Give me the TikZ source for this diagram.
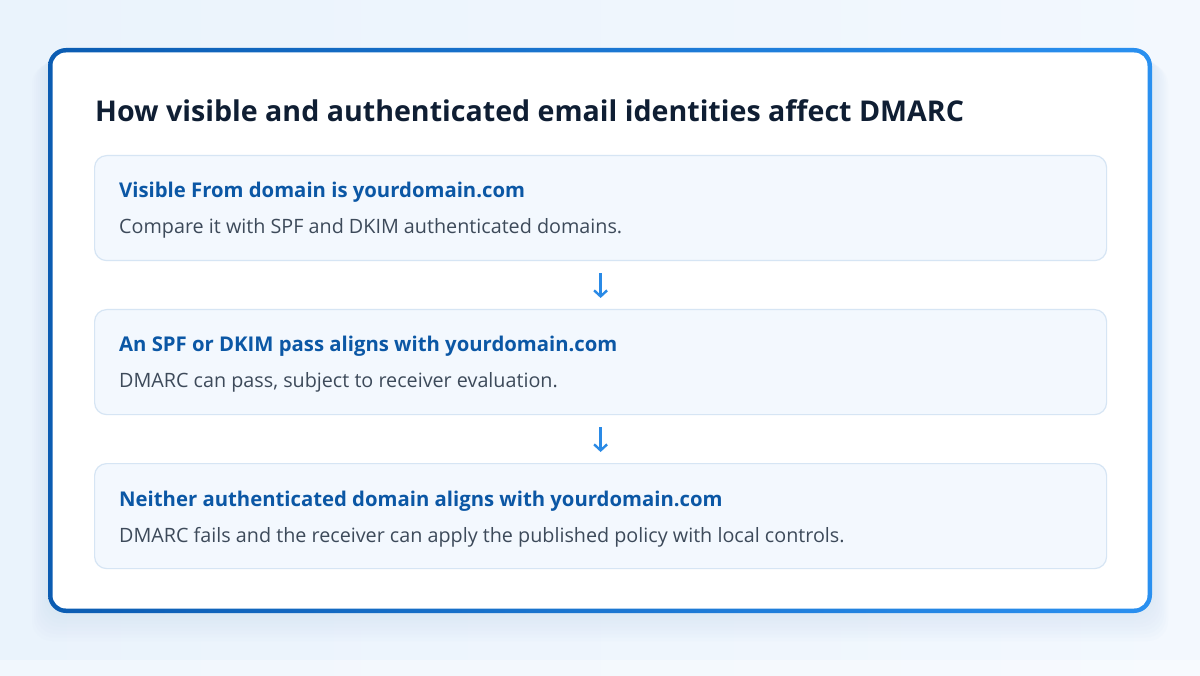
\documentclass[tikz,border=0pt]{standalone}
\usepackage{fontspec}
\setmainfont{Open Sans}
\usetikzlibrary{arrows.meta}
\definecolor{bgA}{HTML}{EAF3FC}
\definecolor{bgB}{HTML}{F3F8FE}
\definecolor{cardL}{HTML}{0B5CB2}
\definecolor{cardR}{HTML}{2A90F0}
\definecolor{titlec}{HTML}{0F1E33}
\definecolor{headc}{HTML}{0B57A5}
\definecolor{bodyc}{HTML}{3D4A5A}
\definecolor{arrowc}{HTML}{2A8AE6}
\definecolor{boxfill}{HTML}{F3F8FE}
\definecolor{boxline}{HTML}{D6E5F4}
\definecolor{shadowc}{HTML}{C9DDF3}
\tikzset{
  stepbox/.style={draw=boxline, line width=1.2pt, fill=boxfill, rounded corners=12pt,
    minimum width=1012pt, minimum height=105pt, inner sep=0pt, anchor=north west},
  headtext/.style={anchor=base west, inner sep=0pt, text=headc, font=\fontsize{20.3}{25}\selectfont\bfseries},
  bodytext/.style={anchor=base west, inner sep=0pt, text=bodyc, font=\fontsize{19.75}{23}\selectfont},
  flowarrow/.style={draw=arrowc, line width=2.4pt, -{Straight Barb[length=6pt,width=13pt,line width=2.4pt]},
    shorten <=12pt, shorten >=11pt}
}
\begin{document}
\begin{tikzpicture}[x=1pt,y=-1pt]
\useasboundingbox (0,0) rectangle (1200,676);
% background
\shade[left color=bgA, right color=bgB] (0,0) rectangle (1200,676);
\fill[white, opacity=0.35] (0,660) rectangle (1200,676);
% soft shadow
\foreach \i in {1,...,8} {
  \fill[shadowc, opacity=0.06, rounded corners=20pt] (48-\i*2,52+\i*1.5) rectangle (1152+\i*2,613+\i*3.5);
}
% card
\shade[left color=cardL, right color=cardR, rounded corners=18pt] (48,48) rectangle (1152,613);
\fill[white, rounded corners=13.5pt] (52.5,52.5) rectangle (1147.5,608.5);
% title
\node[anchor=base west, inner sep=0pt, text=titlec, font=\fontsize{28.6}{34}\selectfont\bfseries] (title) at (95,122)
  {How visible and authenticated email identities affect DMARC};
% boxes
\node[stepbox] (b1) at (94,155) {};
\node[stepbox] (b2) at (94,309) {};
\node[stepbox] (b3) at (94,463) {};
\node[headtext] (h1) at (119,198) {Visible From domain is yourdomain.com};
\node[bodytext] (t1) at (119,234) {Compare it with SPF and DKIM authenticated domains.};
\node[headtext] (h2) at (119,352) {An SPF or DKIM pass aligns with yourdomain.com};
\node[bodytext] (t2) at (119,388) {DMARC can pass, subject to receiver evaluation.};
\node[headtext] (h3) at (119,506) {Neither authenticated domain aligns with yourdomain.com};
\node[bodytext] (t3) at (119,542) {DMARC fails and the receiver can apply the published policy with local controls.};
% arrows
\draw[flowarrow] (b1.south) -- (b2.north);
\draw[flowarrow] (b2.south) -- (b3.north);
\end{tikzpicture}
\end{document}
